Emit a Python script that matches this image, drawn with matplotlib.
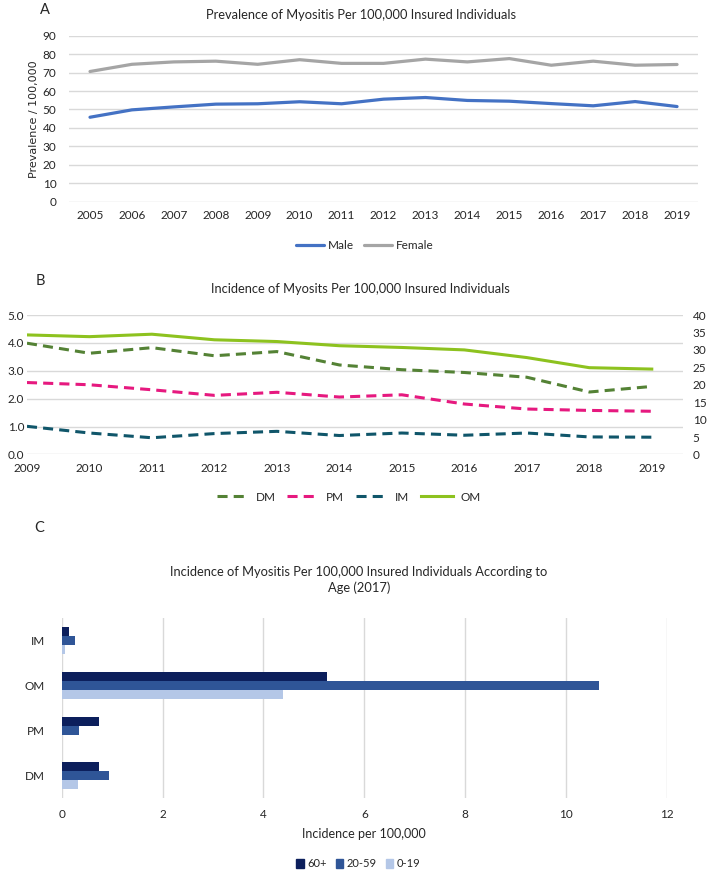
import matplotlib
matplotlib.use("Agg")
import matplotlib.pyplot as plt
from matplotlib.patches import Patch

plt.rcParams['font.family'] = ['Lato', 'DejaVu Sans']

# Panel A - prevalence by sex
years_a = [str(y) for y in range(2005, 2020)]
male = [45.8, 49.8, 51.4, 52.9, 53.1, 54.2, 53.1, 55.6, 56.5, 54.9, 54.5, 53.2, 52.0, 54.3, 51.6]
female = [70.6, 74.5, 75.8, 76.2, 74.5, 77.0, 75.0, 75.0, 77.3, 75.8, 77.6, 74.0, 76.2, 74.0, 74.4]

# Panel B - incidence by subtype (OM on right axis)
years_b = [str(y) for y in range(2009, 2020)]
dm = [3.99, 3.63, 3.83, 3.54, 3.69, 3.21, 3.04, 2.94, 2.77, 2.24, 2.44]
pm = [2.58, 2.50, 2.32, 2.12, 2.23, 2.06, 2.14, 1.81, 1.63, 1.58, 1.55]
im = [1.01, 0.77, 0.60, 0.75, 0.83, 0.68, 0.77, 0.69, 0.77, 0.63, 0.62]
om = [34.3, 33.8, 34.5, 32.9, 32.4, 31.2, 30.7, 30.0, 27.8, 24.9, 24.5]

# Panel C - incidence by age group, 2017
subtypes = ['DM', 'PM', 'OM', 'IM']
age_groups = ['60+', '20-59', '0-19']
inc_60 = [0.74, 0.74, 5.26, 0.14]
inc_20 = [0.94, 0.35, 10.66, 0.26]
inc_0 = [0.32, 0.0, 4.38, 0.07]

txt = '#262626'
grid = '#d9d9d9'

fig = plt.figure(figsize=(7.08, 8.71), dpi=100)

# ---------- A ----------
ax = fig.add_axes([0.0975, 0.7684, 0.8884, 0.1906])
xa = range(len(years_a))
ax.plot(xa, male, color='#4472C4', lw=2.3, solid_joinstyle='round', solid_capstyle='round', label='Male')
ax.plot(xa, female, color='#A5A5A5', lw=2.3, solid_joinstyle='round', solid_capstyle='round', label='Female')
ax.set_xlim(-0.5, len(years_a) - 0.5)
ax.set_ylim(0, 90)
ax.set_yticks(range(0, 91, 10))
ax.set_xticks(list(xa))
ax.set_xticklabels(years_a)
ax.yaxis.grid(True, color=grid, lw=1)
ax.set_axisbelow(True)
for s in ax.spines.values():
    s.set_visible(False)
ax.tick_params(length=0, labelsize=8.5, colors=txt, pad=6)
ax.tick_params(axis='y', pad=9)
ax.set_ylabel('Prevalence / 100,000', family='DejaVu Sans', fontsize=8, color=txt, labelpad=3)
ax.legend(loc='upper center', bbox_to_anchor=(0.47, -0.165), ncol=2, frameon=False,
          fontsize=8.5, handlelength=2.4, handletextpad=0.3, columnspacing=0.8, labelcolor=txt)
fig.text(361 / 708, 1 - 15 / 871, 'Prevalence of Myositis Per 100,000 Insured Individuals',
         ha='center', va='center', fontsize=9.3, color=txt)
fig.text(45 / 708, 1 - 10 / 871, 'A', ha='center', va='center', fontsize=10.5, color=txt)

# ---------- B ----------
bx = fig.add_axes([0.0381, 0.4782, 0.9266, 0.1601])
xb = range(len(years_b))
dash = (0, (3.3, 2.0))
bx.plot(xb, dm, color='#548235', lw=2.2, ls=dash, label='DM')
bx.plot(xb, pm, color='#E6197F', lw=2.2, ls=dash, label='PM')
bx.plot(xb, im, color='#10566A', lw=2.2, ls=dash, label='IM')
bx.set_xlim(0, len(years_b) - 0.5)
bx.set_ylim(0, 5)
bx.set_yticks(range(0, 6))
bx.set_yticklabels([f'{v:.1f}' for v in range(0, 6)])
bx.set_xticks(list(xb))
bx.set_xticklabels(years_b)
bx.yaxis.grid(True, color=grid, lw=1)
bx.set_axisbelow(True)
for s in bx.spines.values():
    s.set_visible(False)
bx.tick_params(length=0, labelsize=8.5, colors=txt, pad=6)
bx.tick_params(axis='y', pad=2)

bx2 = bx.twinx()
bx2.plot(xb, om, color='#8DC21F', lw=2.2, solid_joinstyle='round', label='OM')
bx2.set_ylim(0, 40)
bx2.set_yticks(range(0, 41, 5))
for s in bx2.spines.values():
    s.set_visible(False)
bx2.tick_params(length=0, labelsize=8.5, colors=txt, pad=7)

handles = bx.get_lines() + bx2.get_lines()
bx.legend(handles, [h.get_label() for h in handles], loc='upper center', bbox_to_anchor=(0.49, -0.19),
          ncol=4, frameon=False, fontsize=8.5, handlelength=2.7, handletextpad=0.6,
          columnspacing=1.0, labelcolor=txt)
fig.text(360 / 708, 1 - 289 / 871, 'Incidence of Myosits Per 100,000 Insured Individuals',
         ha='center', va='center', fontsize=9.3, color=txt)
fig.text(40 / 708, 1 - 281 / 871, 'B', ha='center', va='center', fontsize=10.5, color=txt)

# ---------- C ----------
cx = fig.add_axes([0.0871, 0.0838, 0.855, 0.2067])
yc = range(len(subtypes))
h = 0.2
cx.barh([y - h for y in yc], inc_0, height=h, color='#B4C7E7', label='0-19')
cx.barh(list(yc), inc_20, height=h, color='#2F5597', label='20-59')
cx.barh([y + h for y in yc], inc_60, height=h, color='#0C1F5C', label='60+')
cx.set_ylim(-0.5, len(subtypes) - 0.5)
cx.set_xlim(0, 12)
cx.set_xticks(range(0, 13, 2))
cx.set_yticks(list(yc))
cx.set_yticklabels(subtypes)
cx.xaxis.grid(True, color=grid, lw=1)
cx.set_axisbelow(True)
for s in cx.spines.values():
    s.set_visible(False)
cx.tick_params(length=0, labelsize=8.5, colors=txt)
cx.tick_params(axis='x', pad=8)
cx.tick_params(axis='y', pad=12)
cx.set_xlabel('Incidence per 100,000', fontsize=9, color=txt, labelpad=6)
leg_handles = [Patch(color='#0C1F5C'), Patch(color='#2F5597'), Patch(color='#B4C7E7')]
cx.legend(leg_handles, age_groups, loc='upper center', bbox_to_anchor=(0.49, -0.28), ncol=3,
          frameon=False, fontsize=8, handlelength=0.7, handleheight=0.9, handletextpad=0.3,
          columnspacing=0.8, labelcolor=txt)
fig.text(359 / 708, 1 - 580 / 871,
         'Incidence of Myositis Per 100,000 Insured Individuals According to\nAge (2017)',
         ha='center', va='center', fontsize=9.3, color=txt, linespacing=1.3)
fig.text(39 / 708, 1 - 528 / 871, 'C', ha='center', va='center', fontsize=10.5, color=txt)

fig.savefig('out.png', dpi=100)
